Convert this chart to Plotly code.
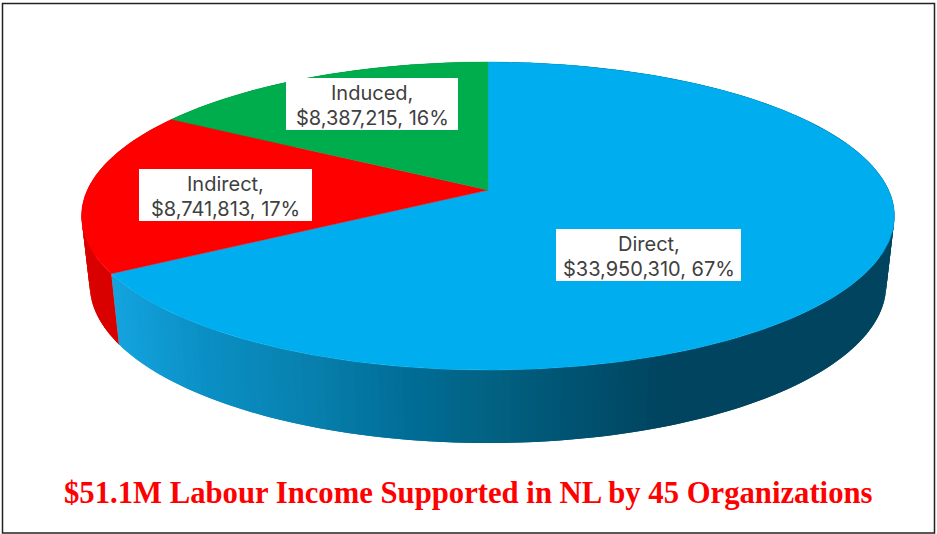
import math
import plotly.graph_objects as go

# --- data ---
categories = ["Direct", "Indirect", "Induced"]
income = [33950310, 8741813, 8387215]
percent_labels = [67, 17, 16]
top_colours = ["#00AEEF", "#FF0000", "#00AD4C"]
title_text = "$51.1M Labour Income Supported in NL by 45 Organizations"

# --- styling / layout ---
W, H = 937, 534
CX = 488.0
TOP = dict(y0=190.0, a=400.6, b=149.6, q=0.169)
BOT = dict(y0=258.3, a=392.5, b=153.5, q=0.169)
RED_SIDE = "#D90000"
GREEN_SIDE = "#008A3C"
# horizontal gradient stops of the blue wall
GRAD = [(110, (20, 163, 222)), (200, (10, 143, 196)), (300, (8, 128, 174)),
        (400, (0, 109, 151)), (480, (2, 98, 130)), (560, (0, 84, 115)),
        (660, (0, 68, 95)), (940, (0, 68, 95))]
# label box centre x, centre y, width, height
LABEL_BOXES = [(648.5, 255, 185, 52), (225.5, 195, 173, 52), (372, 104, 172, 52)]
LINE_GAP = 24.4
TEXT_SHIFT = 1.5


def project(theta, p):
    u, v = math.sin(theta), math.cos(theta)
    w = 1 + p["q"] * v
    return CX + p["a"] * u / w, p["y0"] - p["b"] * v / w


def grad(x):
    for (x0, c0), (x1, c1) in zip(GRAD, GRAD[1:]):
        if x <= x1:
            t = max(0, (x - x0) / (x1 - x0))
            c = [round(a + (b - a) * t) for a, b in zip(c0, c1)]
            return f"rgb({c[0]},{c[1]},{c[2]})"
    return "rgb(0,68,95)"


total = sum(income)
edges = [0.0]
for v in income:
    edges.append(edges[-1] + 2 * math.pi * v / total)

fig = go.Figure()


def poly(xs, ys, colour):
    fig.add_trace(go.Scatter(x=xs, y=ys, mode="lines", fill="toself", fillcolor=colour,
                             line=dict(width=0), hoverinfo="skip", showlegend=False))


# side walls: strips overlap the previous one so that no seams show
for i in range(len(income)):
    a0, a1 = edges[i], edges[i + 1]
    n = max(2, int((a1 - a0) / math.radians(1.0)))
    step = (a1 - a0) / n
    for k in range(n):
        t0 = a0 + step * k
        t1 = t0 + step
        back = max(a0, t0 - step)
        p = [project(t, TOP) for t in (back, t0, t1)] + [project(t, BOT) for t in (t1, t0, back)]
        if i == 0:
            colour = grad((project(t0, TOP)[0] + project(t1, TOP)[0]) / 2)
        else:
            colour = RED_SIDE if i == 1 else GREEN_SIDE
        poly([q[0] for q in p] + [p[0][0]], [q[1] for q in p] + [p[0][1]], colour)

# top faces
for i in range(len(income)):
    a0, a1 = edges[i], edges[i + 1]
    n = max(2, int((a1 - a0) / math.radians(0.5)))
    pts = [project(a0 + (a1 - a0) * k / n, TOP) for k in range(n + 1)]
    xs = [CX] + [q[0] for q in pts] + [CX]
    ys = [TOP["y0"]] + [q[1] for q in pts] + [TOP["y0"]]
    fig.add_trace(go.Scatter(x=xs, y=ys, mode="lines", fill="toself", fillcolor=top_colours[i],
                             line=dict(color=top_colours[i], width=0.5), hoverinfo="skip",
                             showlegend=False, name=categories[i]))

# data labels
for cat, val, pct, (x, y, bw, bh) in zip(categories, income, percent_labels, LABEL_BOXES):
    fig.add_shape(type="rect", xref="x", yref="y", x0=x - bw / 2, x1=x + bw / 2,
                  y0=y - bh / 2, y1=y + bh / 2, fillcolor="white", line=dict(width=0), layer="above")
    for text, dy in ((f"{cat},", -LINE_GAP / 2), (f"${val:,}, {pct}%", LINE_GAP / 2)):
        fig.add_annotation(x=x, y=y + dy + TEXT_SHIFT, xref="x", yref="y", showarrow=False, text=text,
                           font=dict(family="Inter", size=20, color="#404040"))

fig.add_annotation(x=468.5, y=493, xref="x", yref="y", showarrow=False, text=f"<b>{title_text}</b>",
                   font=dict(family="Liberation Serif", size=30.7, color="#FF0000"))

# chart frame
fig.add_shape(type="rect", xref="x", yref="y", x0=2.5, y0=3.5, x1=934.5, y1=533,
              line=dict(color="#222222", width=1.5), fillcolor="rgba(0,0,0,0)", layer="above")

fig.update_layout(width=W, height=H, margin=dict(l=0, r=0, t=0, b=0),
                  paper_bgcolor="white", plot_bgcolor="white", showlegend=False,
                  xaxis=dict(range=[0, W], visible=False, fixedrange=True),
                  yaxis=dict(range=[H, 0], visible=False, fixedrange=True))
fig.write_html("out.html", config=dict(displayModeBar=False),
               post_script="document.body.style.margin='0';document.body.style.overflow='hidden';")
